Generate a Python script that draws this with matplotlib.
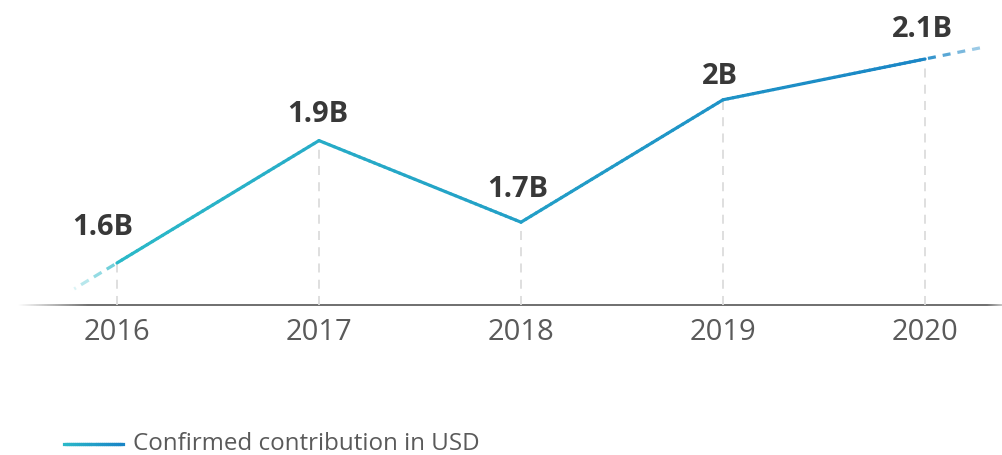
import numpy as np
import matplotlib.pyplot as plt
from matplotlib.collections import LineCollection
from matplotlib.colors import to_rgb

# data
years = [2016, 2017, 2018, 2019, 2020]
contrib = [1.6, 1.9, 1.7, 2.0, 2.1]   # billions USD
point_labels = ['1.6B', '1.9B', '1.7B', '2B', '2.1B']
legend_text = 'Confirmed contribution in USD'

TEAL = np.array(to_rgb('#2bb9c8'))
BLUE = np.array(to_rgb('#1a86c6'))
FONT = ['Open Sans', 'DejaVu Sans']

def grad(t):
    t = np.clip(t, 0, 1)
    return TEAL + (BLUE - TEAL) * t

W, H = 1002, 455
fig = plt.figure(figsize=(W / 100, H / 100), dpi=100)
ax = fig.add_axes([0, (H - 305) / H, 1, 305 / H])
ax.set_xlim(2015.421, 2020.381)
ax.set_ylim(1.497, 2.2446)
ax.axis('off')

x0, x1 = years[0], years[-1]

# main line, gradient along x
segs, cols = [], []
for i in range(len(years) - 1):
    xa, xb = years[i], years[i + 1]
    ya, yb = contrib[i], contrib[i + 1]
    for k in range(40):
        t0, t1 = k / 40, (k + 1) / 40
        sx0, sx1 = xa + (xb - xa) * t0, xa + (xb - xa) * t1
        sy0, sy1 = ya + (yb - ya) * t0, ya + (yb - ya) * t1
        segs.append([(sx0, sy0), (sx1, sy1)])
        cols.append(grad(((sx0 + sx1) / 2 - x0) / (x1 - x0)))
ax.add_collection(LineCollection(segs, colors=cols, linewidths=2.3,
                                 capstyle='round', zorder=3))

# faded dashed extensions at both ends
def extension(xs, ys, xe, ye, length, col, dash=9, gap=6, a0=0.85, a1=0.2):
    # pixel-based dash pattern along the continued slope
    p0 = ax.transData.transform((xs, ys))
    p1 = ax.transData.transform((xe, ye))
    d = (p1 - p0) / np.linalg.norm(p1 - p0)
    pos = 3.0
    inv = ax.transData.inverted()
    while pos < length:
        e = min(pos + dash, length)
        a = a0 + (a1 - a0) * (pos / length)
        q0 = inv.transform(p0 + d * pos)
        q1 = inv.transform(p0 + d * e)
        ax.plot([q0[0], q1[0]], [q0[1], q1[1]], color=col, alpha=a,
                lw=2.3, solid_capstyle='butt', zorder=3)
        pos = e + gap

extension(years[0], contrib[0], years[0] - 1, 2 * contrib[0] - contrib[1],
          50, TEAL, dash=9, gap=6, a0=0.7, a1=0.15)
extension(years[-1], contrib[-1], years[-1] + 1, 2 * contrib[-1] - contrib[-2],
          62, BLUE, dash=8, gap=7, a0=0.9, a1=0.3)

# vertical guides
ax.vlines(years, ax.get_ylim()[0], contrib, colors='#dcdcdc',
          linestyles=(0, (5, 4)), lw=1.3, zorder=1)

# value labels
label_offsets = [(-14, 28), (-1, 19), (-3, 25), (-3, 16), (-3, 22)]
for x, y, lbl, (dx, dy) in zip(years, contrib, point_labels, label_offsets):
    ax.annotate(lbl, (x, y), xytext=(dx, dy), textcoords='offset pixels',
                ha='center', va='baseline', fontsize=21, fontweight='bold',
                family=FONT, color='#383838', zorder=4)

# year labels
for x in years:
    ax.annotate(str(x), (x, ax.get_ylim()[0]), xytext=(0, -35),
                textcoords='offset pixels', ha='center', va='baseline',
                fontsize=21, family=FONT, color='#5a5a5a',
                annotation_clip=False)

# overlay in pixel coords for baseline + legend
ov = fig.add_axes([0, 0, 1, 1], zorder=-1)
ov.set_xlim(0, W)
ov.set_ylim(H, 0)
ov.axis('off')

# baseline with faded ends, drawn as a 1-row image
bx = np.arange(18, W) + 0.5
alpha = np.clip((bx - 18) / 70, 0, 1) * np.clip((W - bx) / 25 + 0.4, 0, 1)
base = np.zeros((1, len(bx), 4))
base[0, :, :3] = 0.45
base[0, :, 3] = alpha
ov.imshow(base, extent=(18, W, 306, 304.5), aspect='auto',
          interpolation='bilinear')
ov.set_xlim(0, W)
ov.set_ylim(H, 0)

lx = np.linspace(64, 123, 30)
lsegs = [[(lx[i], 443.5), (lx[i + 1], 443.5)] for i in range(len(lx) - 1)]
lcol = [grad(i / (len(lx) - 2)) for i in range(len(lx) - 1)]
ov.add_collection(LineCollection(lsegs, colors=lcol, linewidths=2.3,
                                 capstyle='projecting'))
ov.text(133, 443.5, legend_text, ha='left', va='center', fontsize=17.4,
        family=FONT, color='#5a5a5a')

fig.savefig('out.png', dpi=100)
